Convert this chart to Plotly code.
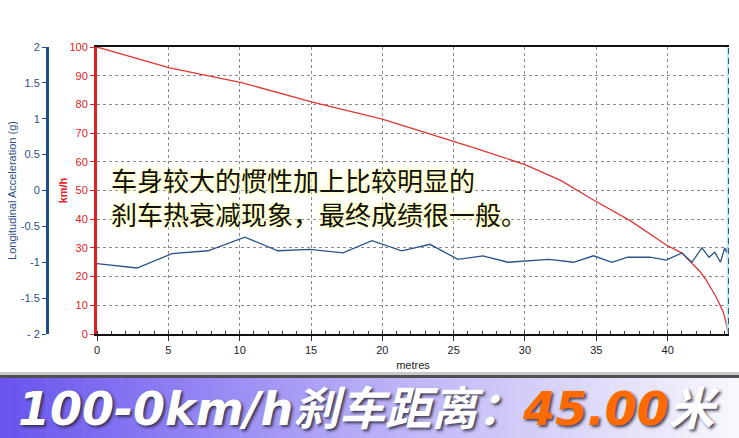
import plotly.graph_objects as go

# ---- data ----
speed_dist = [0, 5.1, 10.2, 15.1, 20.0, 23.2, 26.5, 30.0, 32.5, 34.8, 37.4, 39.9, 41.0, 42.3, 42.7, 43.4, 43.9, 44.1, 44.2, 44.25]
speed_kmh = [100, 92.7, 87.5, 80.8, 74.9, 70, 64.8, 59, 53.5, 46.7, 39.4, 31, 28.2, 21.6, 18.8, 12.9, 7.7, 3.8, 0.7, 0]

acc_dist = [0, 2.8, 5.26, 7.78, 10.37, 12.68, 14.93, 17.24, 19.27, 21.37, 23.34, 25.3, 27.05, 28.8, 31.7,
            33.4, 34.8, 36.1, 37.2, 38.75, 39.9, 41.0, 41.7, 42.4, 42.9, 43.3, 43.7, 44.0, 44.15, 44.2]
acc_g = [-1.02, -1.08, -0.88, -0.84, -0.65, -0.84, -0.82, -0.87, -0.70, -0.84, -0.75, -0.96, -0.91, -1.00, -0.96,
         -1.00, -0.91, -1.00, -0.93, -0.93, -0.97, -0.87, -1.00, -0.80, -0.93, -0.86, -1.00, -0.80, -0.87, -0.79]

x_ticks = [0, 5, 10, 15, 20, 25, 30, 35, 40]
speed_ticks = [0, 10, 20, 30, 40, 50, 60, 70, 80, 90, 100]
acc_ticks = [-2, -1.5, -1, -0.5, 0, 0.5, 1, 1.5, 2]
acc_tick_labels = ["- 2", "-1.5", "-1", "-0.5", "0", "0.5", "1", "1.5", "2"]

note_lines = ["车身较大的惯性加上比较明显的", "刹车热衰减现象，最终成绩很一般。"]
banner_a = "100-0km/h刹车距离："
banner_b = "45.00"
banner_c = "米"

# ---- layout geometry (pixels) ----
W, H = 739, 438
ML, MR, MT, MB = 47, 10, 47, 104
PW = W - ML - MR
PH = H - MT - MB


def px_x(p):
    return (p - ML) / PW


def px_y(p):
    return (H - MB - p) / PH


RED = "#e02020"
BLUE = "#1f4f8a"
BLUE_TXT = "#2d4f86"
GRID = "#8a8a8a"

fig = go.Figure()
fig.add_trace(go.Scatter(x=acc_dist, y=acc_g, yaxis="y2", mode="lines",
                         line=dict(color="#2a5288", width=1.3), showlegend=False, hoverinfo="skip"))
fig.add_trace(go.Scatter(x=speed_dist, y=speed_kmh, mode="lines",
                         line=dict(color="#e03535", width=1.3), showlegend=False, hoverinfo="skip"))

shapes = []
# banner gradient
stops = [(0.0, (104, 84, 238)), (0.45, (176, 166, 246)), (1.0, (248, 248, 252))]


def grad(t):
    for (t0, c0), (t1, c1) in zip(stops[:-1], stops[1:]):
        if t0 <= t <= t1:
            f = (t - t0) / (t1 - t0)
            return "rgb(%d,%d,%d)" % tuple(round(a + (b - a) * f) for a, b in zip(c0, c1))
    return "rgb(248,248,252)"


N = 80
for i in range(N):
    x0 = W * i / N
    x1 = W * (i + 1) / N + 0.6
    shapes.append(dict(type="rect", xref="paper", yref="paper", x0=px_x(x0), x1=px_x(x1),
                       y0=px_y(438), y1=px_y(378), fillcolor=grad((i + 0.5) / N), line_width=0, layer="below"))
# banner top shadow
shapes.append(dict(type="rect", xref="paper", yref="paper", x0=px_x(0), x1=px_x(W), y0=px_y(378), y1=px_y(375),
                   fillcolor="#505050", line_width=0))
shapes.append(dict(type="rect", xref="paper", yref="paper", x0=px_x(0), x1=px_x(W), y0=px_y(375), y1=px_y(372),
                   fillcolor="#c8c8c8", line_width=0))
# right edge dashed line with cyan glow
shapes.append(dict(type="line", xref="x", yref="paper", x0=44.3, x1=44.3, y0=0, y1=1,
                   line=dict(color="rgba(170,235,250,0.8)", width=5)))
shapes.append(dict(type="line", xref="x", yref="paper", x0=44.3, x1=44.3, y0=0, y1=1,
                   line=dict(color="#222", width=1.5, dash="6px,4px")))

annotations = [
    dict(xref="paper", yref="paper", x=px_x(109), y=px_y(196), xanchor="left", yanchor="middle", align="left",
         text="<br>".join(note_lines), showarrow=False,
         font=dict(family="Noto Sans CJK SC", size=26, color="#111",
                   shadow="0px 0px 4px rgb(255,255,160), 0px 0px 9px rgb(255,255,185)")),
    dict(xref="paper", yref="paper", x=px_x(369), y=px_y(409), xanchor="center", yanchor="middle",
         text="<b><i>%s<span style='color:#ff6a00'>%s</span>%s</i></b>" % (banner_a, banner_b, banner_c),
         showarrow=False,
         font=dict(family="DejaVu Sans, Noto Sans CJK SC", size=46, color="white", weight=900,
                   shadow="2px 2px 3px rgba(40,40,60,0.85)")),
]

fig.update_layout(
    width=W, height=H, margin=dict(l=ML, r=MR, t=MT, b=MB, autoexpand=False),
    paper_bgcolor="white", plot_bgcolor="white",
    font=dict(family="Liberation Sans, Arial", size=11),
    shapes=shapes, annotations=annotations,
    xaxis=dict(domain=[px_x(97), 1], range=[0, 44.3], tickvals=x_ticks, ticks="outside", ticklen=5,
               tickcolor="#333", showline=True, linecolor="#111", linewidth=2, mirror=True, automargin=False,
               showgrid=True, gridcolor=GRID, griddash="3px,3px", gridwidth=1, zeroline=False,
               minor=dict(dtick=1, ticks="inside", ticklen=3, tickcolor="#333", showgrid=False),
               tickfont=dict(color="#222", size=11),
               title=dict(text="metres", font=dict(size=11, color="#222"), standoff=6)),
    yaxis=dict(range=[0, 100], tickvals=speed_ticks, ticks="outside", ticklen=4, tickcolor=RED, automargin=False,
               showline=True, linecolor=RED, linewidth=3, showgrid=True, gridcolor=GRID, griddash="3px,3px",
               zeroline=False, tickfont=dict(color=RED, size=11),
               title=dict(text="<b>km/h</b>", font=dict(size=11, color=RED), standoff=0)),
    yaxis2=dict(range=[-2, 2], tickvals=acc_ticks, ticktext=acc_tick_labels, overlaying="y", anchor="free",
                position=0, side="left", ticks="outside", ticklen=4, tickcolor=BLUE, showline=True,
                linecolor=BLUE, linewidth=3, showgrid=False, zeroline=False, automargin=False,
                tickfont=dict(color=BLUE_TXT, size=11),
                title=dict(text="Longitudinal Acceleration (g)", font=dict(size=11, color=BLUE_TXT), standoff=0)),
)

fig.write_html("out.html", config={"displayModeBar": False},
               post_script="document.body.style.margin='0';document.body.style.padding='0';")
